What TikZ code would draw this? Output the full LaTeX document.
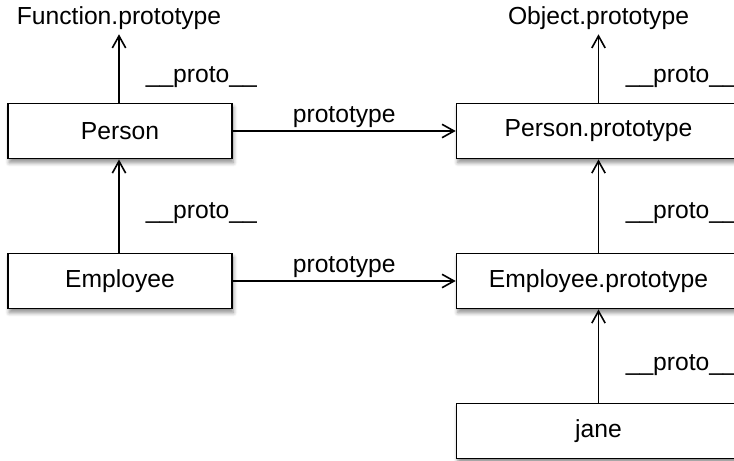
\documentclass[tikz,border=0pt]{standalone}
\usepackage{fontspec}
\setmainfont{Liberation Sans}
\usetikzlibrary{arrows.meta,shadows.blur}

\tikzset{every picture/.style={line width=1.2pt}}
\tikzset{
  objbox/.style={draw, fill=white, rectangle, minimum height=41.5pt, inner sep=0pt,
    blur shadow={shadow xshift=1pt, shadow yshift=-3pt, shadow blur radius=3pt, shadow blur steps=6, shadow opacity=45}},
  link/.style={-{Straight Barb[length=9pt,width=10pt]}},
  lbl/.style={anchor=west, inner sep=0.75pt}
}

\begin{document}
\begin{tikzpicture}[x=0.75pt,y=0.75pt,yscale=-1,xscale=1,font=\fontsize{18.5}{22}\selectfont]
\useasboundingbox (0,0) rectangle (734,460);
\clip (0,0) rectangle (734,460);

%Shape: Rectangle
\node [objbox, minimum width=168pt] (person) at (120,131) {Person};
%Shape: Rectangle
\node [objbox, minimum width=168pt] (employee) at (120,281) {Employee};
%Shape: Rectangle
\node [objbox, minimum width=213pt] (personproto) at (598.5,131) {Person.prototype};
%Shape: Rectangle
\node [objbox, minimum width=213pt] (employeeproto) at (598.5,281) {Employee.prototype};
%Shape: Rectangle
\node [objbox, minimum width=213pt] (jane) at (598.5,431) {jane};

% Text Node
\node [inner sep=3pt] (functionproto) at (119,18) {Function.prototype};
% Text Node
\node [inner sep=3pt] (objectproto) at (598.5,18) {Object.prototype};

%Straight Lines
\draw [link] (person.north -| functionproto) -- (functionproto);
\draw [link] (personproto) -- (objectproto);
\draw [link] (employee.north -| functionproto) -- (person.south -| functionproto);
\draw [link] (employeeproto) -- (personproto);
\draw [link] (jane) -- (employeeproto);
\draw [link] (person) -- node [above, inner sep=2pt] (protolinka) {prototype} (personproto);
\draw [link] (employee) -- node [above, inner sep=2pt] (protolinkb) {prototype} (employeeproto);

% Text Node
\node [lbl] (protoa) at (144,77) {\_\_proto\_\_};
% Text Node
\node [lbl] (protob) at (624,77) {\_\_proto\_\_};
% Text Node
\node [lbl] (protoc) at (144,213) {\_\_proto\_\_};
% Text Node
\node [lbl] (protod) at (624,213) {\_\_proto\_\_};
% Text Node
\node [lbl] (protoe) at (624,365) {\_\_proto\_\_};

\end{tikzpicture}
\end{document}
